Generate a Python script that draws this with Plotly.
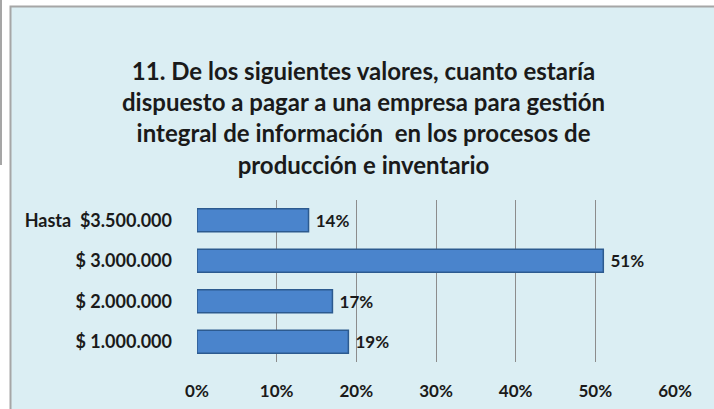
import plotly.graph_objects as go

categories = ["$ 1.000.000", "$ 2.000.000", "$ 3.000.000", "Hasta  $3.500.000"]
values = [19, 17, 51, 14]
tick_vals = [0, 10, 20, 30, 40, 50, 60]
tick_text = ["0%", "10%", "20%", "30%", "40%", "50%", "60%"]
title_lines = [
    "11. De los siguientes valores, cuanto estaría",
    "dispuesto a pagar a una empresa para gestión",
    "integral de información  en los procesos de",
    "producción e inventario",
]

W, H = 714, 409
FONT = "Lato"

fig = go.Figure()
fig.add_trace(go.Bar(
    y=categories, x=values, orientation="h",
    marker=dict(color="#4A84CC", line=dict(color="#2C5A8F", width=1.5)),
    text=["\u00a0" + f"{v}%" for v in values],
    textposition="outside",
    textfont=dict(family=FONT, size=17, color="#1a1a1a", weight="bold"),
    cliponaxis=False,
    hoverinfo="skip",
))

fig.update_layout(
    width=W, height=H,
    margin=dict(l=0, r=0, t=0, b=0),
    paper_bgcolor="white",
    plot_bgcolor="#F2F2F2",
    showlegend=False,
    bargap=0.43,
    xaxis=dict(
        domain=[197 / W, 675 / W], range=[0, 60],
        tickvals=tick_vals, ticktext=tick_text,
        showgrid=True, gridcolor="#8C8C8C", gridwidth=1.3,
        zeroline=False, showline=False, ticks="",
        automargin=False,
        ticklabelstandoff=17,
        tickfont=dict(family=FONT, size=17, color="#1a1a1a", weight="bold"),
    ),
    yaxis=dict(
        domain=[(H - 362) / H, (H - 200) / H],
        showgrid=False, zeroline=False, showline=False, ticks="",
        automargin=False,
        ticklabelstandoff=24,
        tickfont=dict(family=FONT, size=18, color="#1a1a1a", weight="bold"),
    ),
    shapes=[
        dict(type="rect", xref="paper", yref="paper", layer="below",
             x0=10.5 / W, x1=1.02, y0=-0.02, y1=(H - 6.5) / H,
             fillcolor="#DBEEF3", line=dict(color="#A6A6A6", width=2)),
        dict(type="line", xref="paper", yref="paper",
             x0=1 / W, x1=1 / W, y0=(H - 165) / H, y1=1,
             line=dict(color="#A6A6A6", width=2)),
    ],
    annotations=[
        dict(text="<br>".join(title_lines), xref="paper", yref="paper",
             x=363 / W, y=(H - 117) / H, xanchor="center", yanchor="middle",
             showarrow=False, align="center",
             font=dict(family=FONT, size=24, color="#1a1a1a", weight="bold")),
    ],
)

fig.write_html(
    "out.html",
    config={"displayModeBar": False},
    post_script="document.body.style.margin='0';document.body.style.overflow='hidden';",
)
